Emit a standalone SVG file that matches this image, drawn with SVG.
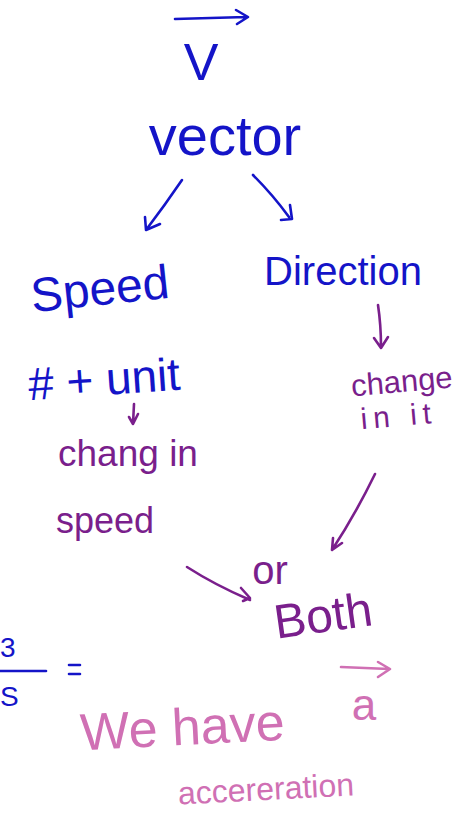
<svg xmlns="http://www.w3.org/2000/svg" width="461" height="814" viewBox="0 0 461 814">
  <style>
    .t { font-family: "Liberation Sans", "DejaVu Sans", sans-serif; }
    .blue { fill: #1414c8; }
    .purple { fill: #7a1f8c; }
    .pink { fill: #d070b4; }
    .ln { fill: none; stroke-width: 2.6; stroke-linecap: round; stroke-linejoin: round; }
    .lb { stroke: #1414c8; }
    .lp { stroke: #7a1f8c; }
    .lk { stroke: #d070b4; }
  </style>
  <rect width="461" height="814" fill="#ffffff"/>

  <g id="vector-symbol">
    <path class="ln lb" d="M175 19 L246 17 M236 10 L248 17 L237 24"/>
    <text class="t blue" x="201" y="80" font-size="52" text-anchor="middle">V</text>
  </g>

  <g id="vector">
    <text class="t blue" x="225" y="155" font-size="56" text-anchor="middle">vector</text>
  </g>

  <g id="speed">
    <text class="t blue" x="100" y="305" font-size="48" text-anchor="middle" transform="rotate(-6 100 290)">Speed</text>
  </g>

  <g id="direction">
    <text class="t blue" x="343" y="285" font-size="40" text-anchor="middle">Direction</text>
  </g>

  <g id="number-unit">
    <text class="t blue" x="104" y="395" font-size="46" text-anchor="middle" transform="rotate(-4 104 380)"># + unit</text>
  </g>

  <g id="change-in-speed">
    <text class="t purple" x="128" y="466" font-size="37" text-anchor="middle">chang in</text>
    <text class="t purple" x="105" y="533" font-size="36" text-anchor="middle">speed</text>
  </g>

  <g id="change-in-it">
    <text class="t purple" x="402" y="392" font-size="31" text-anchor="middle" transform="rotate(-5 402 385)">change</text>
    <text class="t purple" x="399" y="426" font-size="30" text-anchor="middle" letter-spacing="6" transform="rotate(-5 399 418)">in it</text>
  </g>

  <g id="or-both">
    <text class="t purple" x="270" y="584" font-size="40" text-anchor="middle">or</text>
    <text class="t purple" x="323" y="632" font-size="48" text-anchor="middle" transform="rotate(-8 323 615)">Both</text>
  </g>

  <g id="fraction">
    <text class="t blue" x="0" y="657" font-size="28">3</text>
    <text class="t blue" x="0" y="706" font-size="28">S</text>
    <path class="ln lb" d="M0 671 L46 671" stroke-width="3.5"/>
    <path class="ln lb" d="M69 665 L80 665 M69 674 L80 674"/>
  </g>

  <g id="we-have">
    <text class="t pink" x="182" y="745" font-size="52" text-anchor="middle" transform="rotate(-3 182 720)">We have</text>
  </g>

  <g id="acceleration-vector">
    <path class="ln lk" d="M341 667 L389 669 M378 662 L390 669 L378 677"/>
    <text class="t pink" x="364" y="720" font-size="44" text-anchor="middle">a</text>
  </g>

  <g id="acceleration">
    <text class="t pink" x="266" y="800" font-size="32" text-anchor="middle" transform="rotate(-3 266 790)">accereration</text>
  </g>

  <g id="connectors">
    <!-- vector -> speed -->
    <path class="ln lb" d="M182 180 Q165 205 146 230 M145 217 L146 230 L160 224"/>
    <!-- vector -> direction -->
    <path class="ln lb" d="M253 175 Q273 195 289 217 M290 205 L292 219 L281 220"/>
    <!-- direction -> change in it -->
    <path class="ln lp" d="M378 305 Q381 325 381 347 M374 338 L381 348 L388 337"/>
    <!-- # + unit -> chang in speed -->
    <path class="ln lp" d="M134 404 L133 424 M129 417 L133 424 L138 414"/>
    <!-- change in it -> both -->
    <path class="ln lp" d="M375 474 Q355 515 332 550 M333 538 L332 550 L342 543"/>
    <!-- chang in speed -> or -->
    <path class="ln lp" d="M187 567 Q215 585 250 600 M241 588 L250 598 L243 601"/>
  </g>
</svg>
